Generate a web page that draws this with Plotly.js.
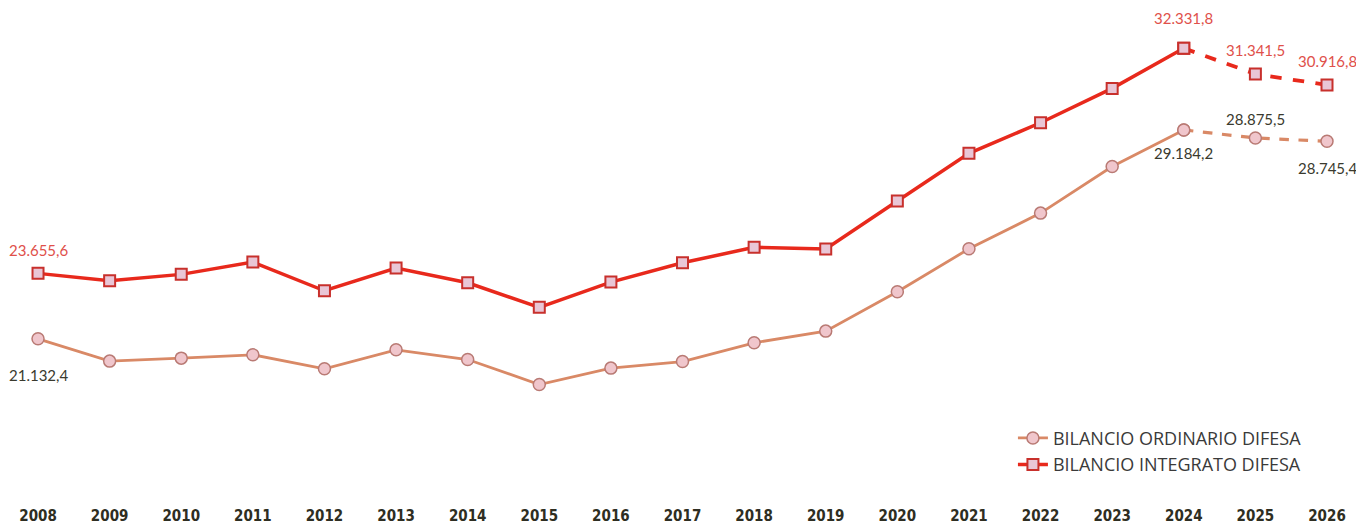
<!DOCTYPE html>
<html>
<head>
<meta charset="utf-8">
<script src="https://cdn.plot.ly/plotly-3.0.1.min.js"></script>
<style>html,body{margin:0;padding:0;background:#fff;}#chart{width:1356px;height:528px;}</style>
</head>
<body>
<div id="chart"></div>
<script>
const years = [2008,2009,2010,2011,2012,2013,2014,2015,2016,2017,2018,2019,2020,2021,2022,2023,2024,2025,2026];
const yearLabels = years.map(String);
const integrato = [23655.6,23370,23617,24091,22985,23860,23293,22345,23320,24064,24658,24592,26443,28282,29461,30787,32331.8,31341.5,30916.8];
const ordinario = [21132.4,20273,20388,20516,19976,20708,20334,19371,20003,20257,20978,21429,22944,24602,25978,27775,29184.2,28875.5,28745.4];
const integratoLabels = ["23.655,6","","","","","","","","","","","","","","","","32.331,8","31.341,5","30.916,8"];
const ordinarioLabels = ["21.132,4","","","","","","","","","","","","","","","","29.184,2","28.875,5","28.745,4"];
const lastActual = 16; // index of 2024, dashed afterwards

const redLine = '#e8291c', redMarkerLine = '#c8302c', redFill = '#e9c6d6';
const orLine = '#d98966', orMarkerLine = '#b97a74', orFill = '#f0c6cc';

// label offsets (pixels, positive = up) relative to the point
const intShift = {0:23, 16:30, 17:24, 18:24};
const ordShift = {0:-36, 16:-23, 17:19, 18:-27};

function slice(a, s, e){ return a.slice(s, e); }

const traces = [
  {x: slice(years,0,lastActual+1), y: slice(ordinario,0,lastActual+1), type:'scatter', mode:'lines+markers',
   name:'BILANCIO ORDINARIO DIFESA', legendgroup:'ord', showlegend:true,
   line:{color:orLine, width:2.8},
   marker:{symbol:'circle', size:12, color:orFill, line:{color:orMarkerLine, width:1.5}}, cliponaxis:false},
  {x: slice(years,lastActual), y: slice(ordinario,lastActual), type:'scatter', mode:'lines+markers',
   name:'BILANCIO ORDINARIO DIFESA', legendgroup:'ord', showlegend:false,
   line:{color:orLine, width:3.2, dash:'dash'},
   marker:{symbol:'circle', size:12, color:orFill, line:{color:orMarkerLine, width:1.5}}, cliponaxis:false},
  {x: slice(years,0,lastActual+1), y: slice(integrato,0,lastActual+1), type:'scatter', mode:'lines+markers',
   name:'BILANCIO INTEGRATO DIFESA', legendgroup:'int', showlegend:true,
   line:{color:redLine, width:3.5},
   marker:{symbol:'square', size:11, color:redFill, line:{color:redMarkerLine, width:2}}, cliponaxis:false},
  {x: slice(years,lastActual), y: slice(integrato,lastActual), type:'scatter', mode:'lines+markers',
   name:'BILANCIO INTEGRATO DIFESA', legendgroup:'int', showlegend:false,
   line:{color:redLine, width:3.8, dash:'dash'},
   marker:{symbol:'square', size:11, color:redFill, line:{color:redMarkerLine, width:2}}, cliponaxis:false}
];

const annotations = [];
integratoLabels.forEach((t,i)=>{ if(t) annotations.push({x:years[i], y:integrato[i], text:t, showarrow:false,
  yshift:intShift[i], font:{family:'Lato, Open Sans, sans-serif', size:15, color:'#e0504a'}}); });
ordinarioLabels.forEach((t,i)=>{ if(t) annotations.push({x:years[i], y:ordinario[i], text:t, showarrow:false,
  yshift:ordShift[i], font:{family:'Lato, Open Sans, sans-serif', size:15, color:'#3a3a2e'}}); });

const layout = {
  width:1356, height:528,
  margin:{l:0, r:0, t:18, b:23},
  paper_bgcolor:'#ffffff', plot_bgcolor:'#ffffff',
  showlegend:true,
  annotations: annotations,
  legend:{x:0.747, y:0.175, xanchor:'left', yanchor:'top', bgcolor:'rgba(0,0,0,0)',
          font:{family:'Open Sans, Lato, sans-serif', size:18, color:'#3a3a3a'}, tracegroupgap:0, itemwidth:30},
  xaxis:{range:[2007.469, 2026.405], tickmode:'array', tickvals:years, ticktext:yearLabels,
         showgrid:false, zeroline:false, showline:false, ticks:'',
         tickfont:{family:'Liberation Sans Narrow, DejaVu Sans Condensed, sans-serif', size:15, color:'#2e2e22', weight:'bold'}},
  yaxis:{range:[14726, 33500], visible:false, showgrid:false, zeroline:false},
  font:{family:'Lato, sans-serif'}
};

Plotly.newPlot('chart', traces, layout, {displayModeBar:false, staticPlot:true});
</script>
</body>
</html>
